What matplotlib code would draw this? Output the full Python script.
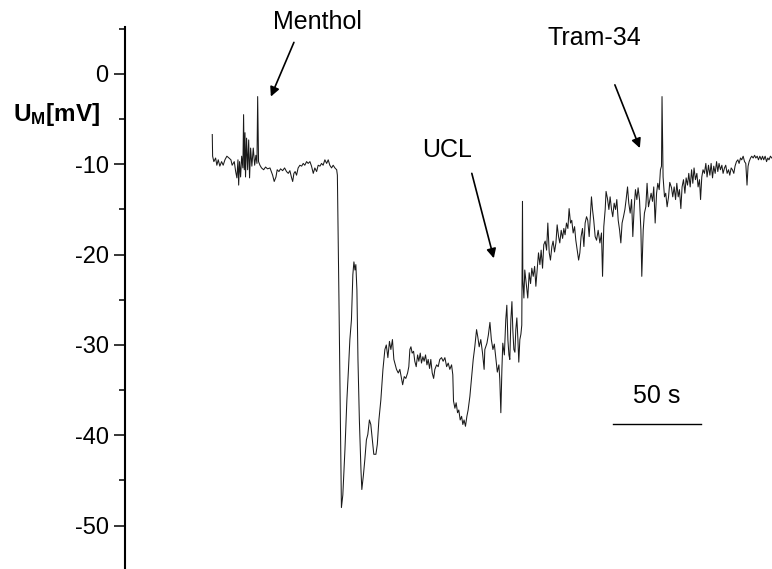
import matplotlib
matplotlib.use('Agg')
import matplotlib.pyplot as plt
from matplotlib.ticker import MultipleLocator

plt.rcParams['font.family'] = ['Liberation Sans', 'DejaVu Sans']
plt.rcParams['mathtext.fontset'] = 'custom'
plt.rcParams['mathtext.rm'] = 'Liberation Sans'
plt.rcParams['mathtext.bf'] = 'Liberation Sans:bold'
plt.rcParams['axes.unicode_minus'] = False

# membrane potential trace: time (s) and U_M (mV)
time_s = [
    0.2, 0.4, 1.1, 2.1, 2.8, 3.6, 4.5, 5.5, 6.4, 7.4,
    8.5, 9.7, 10.8, 11.5, 12.7, 13.5, 14.2, 14.8, 15.2, 15.7,
    16.3, 16.9, 17.6, 18.0, 18.4, 18.8, 19.1, 19.7, 20.3, 20.9,
    21.4, 22.0, 22.7, 23.5, 24.3, 25.0, 25.6, 26.0, 26.5, 27.3,
    28.2, 29.4, 30.5, 31.6, 33.0, 34.5, 35.4, 36.4, 37.1, 38.1,
    39.0, 40.2, 41.3, 42.4, 43.4, 44.3, 45.3, 45.9, 46.6, 47.3,
    48.1, 49.0, 50.0, 51.0, 51.9, 52.8, 53.8, 54.7, 55.7, 56.6,
    57.6, 58.5, 59.5, 60.4, 61.4, 62.3, 63.2, 64.2, 65.2, 66.1,
    67.0, 68.0, 68.9, 69.9, 70.9, 71.3, 72.2, 73.6, 74.4, 75.6,
    76.7, 77.6, 78.4, 79.3, 80.1, 80.7, 81.3, 81.8, 82.4, 83.0,
    83.8, 84.7, 85.2, 86.1, 86.9, 87.8, 88.6, 89.5, 90.3, 91.2,
    92.0, 93.2, 94.0, 94.9, 96.0, 97.2, 98.3, 99.1, 100.0, 100.9,
    101.7, 102.6, 103.4, 104.9, 105.9, 106.8, 107.8, 108.4, 109.3, 110.2,
    111.2, 111.9, 112.5, 113.1, 113.8, 114.6, 115.3, 116.1, 116.9, 117.6,
    118.4, 119.1, 119.9, 120.6, 121.4, 122.2, 122.9, 123.7, 124.4, 125.2,
    126.0, 126.7, 127.7, 128.6, 129.5, 130.5, 131.4, 132.4, 133.4, 134.3,
    135.2, 136.2, 136.9, 137.3, 138.1, 138.8, 139.6, 140.3, 141.1, 141.9,
    142.6, 143.3, 144.1, 144.9, 145.6, 146.6, 147.6, 148.5, 149.4, 150.4,
    151.1, 151.9, 152.8, 153.8, 154.7, 155.1, 156.3, 157.1, 158.0, 158.8,
    159.7, 160.5, 161.4, 162.2, 163.1, 163.6, 164.2, 164.8, 165.3, 166.2,
    167.0, 167.6, 168.2, 168.8, 169.3, 169.9, 170.5, 171.0, 171.6, 172.2,
    172.7, 173.3, 173.9, 174.4, 175.0, 175.6, 176.1, 176.5, 176.7, 177.3,
    177.8, 178.6, 179.5, 180.3, 181.1, 181.8, 182.6, 183.4, 184.1, 184.8,
    185.6, 186.4, 187.1, 187.9, 188.6, 189.4, 190.2, 190.9, 191.7, 192.4,
    193.2, 193.9, 194.7, 195.5, 196.2, 197.0, 197.7, 198.5, 199.3, 200.0,
    200.7, 201.5, 202.3, 203.0, 203.8, 204.5, 205.3, 206.1, 206.8, 207.6,
    208.4, 209.1, 209.8, 210.6, 211.4, 212.1, 212.9, 213.6, 214.4, 215.2,
    215.7, 216.3, 217.0, 217.8, 218.6, 219.5, 220.5, 221.4, 222.0, 222.7,
    223.5, 224.0, 224.8, 225.6, 226.3, 227.1, 227.8, 228.6, 229.4, 230.1,
    230.9, 231.7, 232.4, 233.1, 233.9, 234.7, 235.4, 236.2, 236.9, 237.7,
    238.5, 239.2, 240.0, 240.7, 241.5, 242.2, 243.0, 243.8, 244.3, 245.1,
    245.8, 246.6, 247.3, 248.1, 248.9, 249.6, 250.4, 251.1, 251.9, 252.7,
    253.4, 254.2, 254.9, 255.5, 255.8, 256.4, 257.2, 257.9, 258.7, 259.5,
    260.2, 261.2, 261.9, 262.7, 263.5, 264.2, 265.0, 265.7, 266.5, 267.2,
    268.0, 268.8, 269.5, 270.3, 271.0, 271.8, 272.6, 273.3, 274.0, 274.8,
    275.6, 276.3, 277.1, 277.7, 278.4, 279.1, 279.9, 280.7, 281.4, 282.2,
    283.0, 283.7, 284.5, 285.2, 286.0, 286.8, 287.5, 288.2, 289.0, 289.8,
    290.5, 291.3, 292.0, 292.8, 293.6, 294.3, 295.1, 295.8, 296.6, 297.3,
    298.1, 298.9, 299.6, 300.4, 301.1, 301.9, 302.7, 303.4, 304.1, 304.7,
    305.3, 306.1, 306.8, 307.6, 308.4, 309.1, 309.9, 310.6, 311.4, 312.2,
    312.9, 313.6, 314.4, 315.2, 315.9, 316.6, 317.4, 318.2,
]
um_mv = [
    -6.7, -9.1, -9.7, -9.3, -10.1, -9.5, -10.2, -9.7, -10.1, -9.5,
    -9.1, -9.3, -9.5, -10.1, -9.7, -10.8, -11.5, -9.5, -12.3, -9.7,
    -11.4, -9.1, -10.4, -4.5, -10.6, -6.5, -11.4, -7.1, -10.6, -7.3,
    -11.5, -8.2, -10.2, -8.2, -10.1, -9.0, -9.9, -2.5, -9.7, -10.1,
    -10.4, -10.6, -10.3, -10.5, -10.4, -11.2, -11.9, -11.4, -10.6, -10.8,
    -10.5, -10.7, -10.4, -10.8, -11.0, -10.7, -11.5, -11.9, -11.0, -10.8,
    -11.2, -10.4, -10.1, -10.2, -9.9, -10.1, -9.7, -9.9, -9.7, -10.2,
    -11.0, -10.4, -10.8, -10.1, -10.2, -9.9, -10.1, -9.5, -9.9, -9.5,
    -10.1, -10.4, -10.1, -10.4, -10.6, -11.2, -25.0, -48.0, -46.6, -41.6,
    -36.1, -32.7, -29.4, -27.2, -22.2, -20.8, -21.7, -21.1, -23.9, -31.6,
    -38.3, -43.8, -46.0, -44.4, -42.7, -40.5, -39.9, -38.3, -38.8, -40.5,
    -42.1, -42.1, -41.0, -38.3, -36.1, -32.7, -30.5, -30.0, -31.4, -29.6,
    -30.5, -29.4, -31.6, -32.7, -33.1, -32.7, -33.8, -34.4, -33.5, -33.7,
    -33.1, -32.4, -30.5, -30.2, -30.9, -30.7, -31.8, -32.4, -31.1, -31.8,
    -30.9, -32.0, -31.3, -31.8, -31.1, -32.2, -31.6, -32.6, -31.6, -33.1,
    -33.7, -32.7, -32.2, -32.4, -31.6, -31.4, -31.8, -31.4, -32.4, -32.0,
    -32.7, -32.2, -33.3, -36.2, -37.0, -36.4, -37.5, -37.2, -38.3, -37.9,
    -38.8, -38.3, -39.0, -37.9, -37.2, -35.7, -33.5, -31.6, -30.2, -28.3,
    -29.1, -30.2, -29.4, -30.9, -32.7, -30.5, -29.8, -28.9, -27.5, -29.4,
    -30.5, -29.9, -31.6, -33.0, -32.2, -33.8, -37.5, -32.7, -29.8, -31.1,
    -27.2, -25.6, -29.4, -31.1, -31.6, -27.2, -25.2, -28.3, -30.5, -30.8,
    -28.3, -27.0, -29.4, -31.9, -29.4, -28.8, -27.8, -14.1, -22.8, -24.8,
    -21.7, -23.2, -24.8, -22.0, -23.2, -21.5, -22.4, -21.3, -23.5, -21.7,
    -19.8, -21.1, -19.5, -21.5, -18.9, -18.5, -19.5, -16.5, -19.8, -20.6,
    -19.1, -18.5, -19.7, -18.7, -16.7, -18.0, -18.7, -17.3, -18.2, -17.1,
    -17.8, -16.5, -17.1, -14.9, -16.5, -16.2, -17.6, -16.9, -18.4, -19.5,
    -20.6, -19.8, -18.0, -17.1, -19.1, -16.5, -15.8, -16.2, -18.0, -15.4,
    -13.6, -15.0, -16.2, -18.0, -18.4, -17.3, -18.7, -17.6, -22.4, -16.9,
    -15.0, -13.0, -13.8, -15.0, -13.6, -15.0, -15.8, -14.3, -15.0, -13.9,
    -16.2, -17.3, -18.7, -16.5, -15.8, -15.0, -13.9, -12.5, -14.3, -15.4,
    -13.9, -18.0, -14.7, -12.8, -13.9, -12.6, -13.9, -17.3, -22.4, -17.3,
    -15.4, -14.7, -12.1, -14.7, -13.9, -13.2, -14.1, -12.5, -16.5, -13.2,
    -12.1, -12.8, -10.6, -10.2, -2.5, -11.4, -13.6, -13.2, -14.7, -13.6,
    -12.0, -12.6, -13.6, -12.5, -13.9, -12.1, -13.6, -12.8, -14.9, -12.5,
    -11.7, -13.2, -11.5, -12.3, -11.0, -12.5, -10.6, -12.1, -10.4, -11.7,
    -11.0, -12.5, -11.7, -13.9, -11.4, -10.6, -11.0, -9.9, -11.4, -10.1,
    -11.2, -9.9, -11.5, -10.2, -11.0, -9.7, -10.8, -9.9, -10.6, -10.1,
    -11.0, -10.4, -10.1, -11.0, -10.6, -11.2, -10.4, -10.6, -11.0, -10.2,
    -9.7, -9.5, -9.9, -9.3, -9.5, -9.1, -9.7, -9.9, -12.3, -10.2,
    -9.7, -9.3, -9.1, -9.3, -9.0, -9.3, -9.1, -9.5, -9.1, -9.5,
    -9.1, -9.5, -9.1, -9.7, -9.3, -9.5, -9.1, -9.3,
]

# drug applications: label, label position, arrow tail, arrow head (s, mV)
drug_labels = ['Menthol', 'UCL', 'Tram-34']
label_pos = [(60.2, 5.75), (133.5, -8.4), (217.6, 4.0)]
arrow_tail = [(46.6, 3.5), (147.7, -11.0), (229.0, -1.2)]
arrow_head = [(33.5, -2.5), (160.2, -20.4), (243.2, -8.2)]

# time scale bar
bar_start, bar_len, bar_level = 227.8, 50, -38.7

fig = plt.figure(figsize=(7.72, 5.69), dpi=100)
ax = fig.add_axes([0.1619, 0.0, 0.8381, 0.9525])
ax.plot(time_s, um_mv, color='#1a1a1a', lw=0.75)
ax.set_xlim(-49.4, 318.3)
ax.set_ylim(-54.8, 5.2)

for side in ('top', 'right', 'bottom'):
    ax.spines[side].set_visible(False)
ax.spines['left'].set_linewidth(1.5)
ax.xaxis.set_visible(False)
ax.yaxis.set_major_locator(MultipleLocator(10))
ax.yaxis.set_minor_locator(MultipleLocator(5))
ax.tick_params(axis='y', which='major', direction='out', length=8.2,
               width=1.1, labelsize=17, pad=3.6)
ax.tick_params(axis='y', which='minor', direction='out', length=4.1, width=1.1)

fig.text(0.0165, 1 - 121 / 569, r'$\mathbf{U_M}$[mV]', fontsize=17.5,
         fontweight='bold', ha='left', va='baseline')

for name, pos, tail, head in zip(drug_labels, label_pos, arrow_tail, arrow_head):
    ax.text(pos[0], pos[1], name, fontsize=18, ha='center', va='center',
            clip_on=False)
    ax.annotate('', xy=head, xytext=tail, annotation_clip=False,
                arrowprops=dict(arrowstyle='-|>', color='black', lw=1.2,
                                mutation_scale=14, shrinkA=0, shrinkB=0))

ax.plot([bar_start, bar_start + bar_len], [bar_level, bar_level],
        color='black', lw=1.0)
ax.text(bar_start + bar_len / 2, bar_level + 3.0, '%d s' % bar_len,
        fontsize=18, ha='center', va='center')

fig.savefig('out.png', dpi=100)
